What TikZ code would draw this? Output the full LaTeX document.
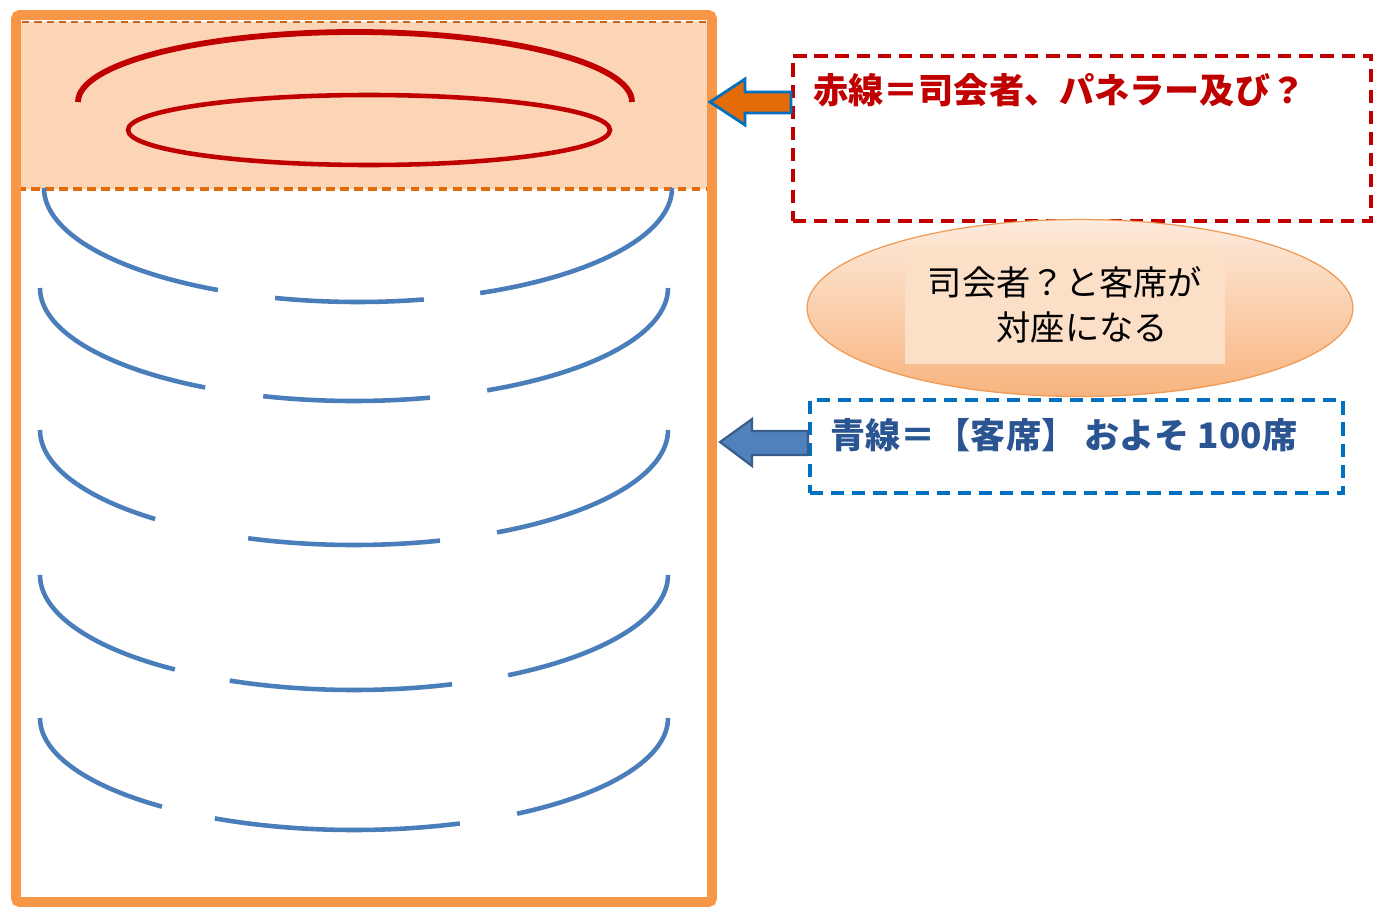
\documentclass[tikz,border=0pt]{standalone}
\usepackage{fontspec}
\newfontfamily\jpfont{Noto Sans CJK JP}
\usetikzlibrary{shapes.geometric,positioning}
\definecolor{frameorange}{HTML}{F79646}
\definecolor{panelpeach}{HTML}{FBD5B5}
\definecolor{panelline}{HTML}{C8641E}
\definecolor{dashorange}{HTML}{E36C09}
\definecolor{panelred}{HTML}{C00000}
\definecolor{seatblue}{HTML}{4A7EBB}
\definecolor{boxblue}{HTML}{0070C0}
\definecolor{textblue}{HTML}{2A5592}
\definecolor{arrowblue}{HTML}{4F81BD}
\definecolor{arrowedge}{HTML}{385D8A}
\definecolor{bubbletop}{HTML}{FDEBDD}
\definecolor{bubblebottom}{HTML}{F8B47E}
\definecolor{bubbleedge}{HTML}{EE9A55}
\tikzset{
    seat/.style = {seatblue, line width=2.6pt},
    panel/.style = {panelred, line width=2.6pt},
    notebox/.style = {draw, line width=2.2pt, dash pattern=on 7.5pt off 4.5pt, inner sep=0pt, anchor=north west},
    notetext/.style = {font=\jpfont\bfseries\fontsize{20}{24}\selectfont, anchor=west, inner sep=0pt}
}

\begin{document}
\begin{tikzpicture}[x=0.02cm, y=-0.02cm]
    \useasboundingbox (0,0) rectangle (1379,906);

    % Stage area
    \fill[panelpeach] (17,22) rectangle (709,189);
    \draw[panelline, line width=0.9pt, dash pattern=on 4pt off 3pt] (17,189) -- (17,22) -- (709,22) -- (709,189);
    \draw[dashorange, line width=1.8pt, dash pattern=on 5pt off 3pt] (17,189) -- (709,189);

    % Panel (red)
    \draw[panel, line width=3.3pt] (355,102) ++(180:277 and 70) arc[start angle=180, end angle=360, x radius=277, y radius=70];
    \draw[panel] (369,130) ellipse [x radius=241, y radius=35];

    % Seats (blue)
    \foreach \cx/\cy/\ry/\a/\b/\c/\d in {358/188/114/116.5/105.3/77.9/67.1,
                                         354/288/113/118.3/106.8/76/64.9,
                                         354/430/115/129.3/109.7/74.1/62.9,
                                         354/575/115/124.8/113.3/71.8/60.6,
                                         354/718/112/127.7/116.3/70.3/58.7}
    {
        \draw[seat] (\cx,\cy) ++(180:314 and \ry) arc[start angle=180, end angle=\a, x radius=314, y radius=\ry]
                    (\cx,\cy) ++(\b:314 and \ry) arc[start angle=\b, end angle=\c, x radius=314, y radius=\ry]
                    (\cx,\cy) ++(\d:314 and \ry) arc[start angle=\d, end angle=0, x radius=314, y radius=\ry];
    }

    % Hall frame
    \draw[frameorange, line width=5.5pt, rounded corners=2pt] (16,15) rectangle (712,902);

    % Notes
    \node[notebox, draw=panelred, minimum width=11.56cm, minimum height=3.3cm] (redbox) at (791,54) {};
    \node[notetext, text=panelred] (redtext) at (813,90) {赤線＝司会者、パネラー及び？};

    \node[ellipse, draw=bubbleedge, line width=0.7pt, top color=bubbletop, bottom color=bubblebottom,
          minimum width=10.92cm, minimum height=3.54cm] (bubble) at (1080,308) {};
    \node[fill=panelpeach!75!white, minimum width=6.4cm, minimum height=2.38cm, align=left,
          font=\jpfont\fontsize{19.5}{25.5}\selectfont] (bubbletext) at (1065,305) {司会者？と客席が\\　　対座になる};

    \node[notebox, draw=boxblue, line width=2.4pt, minimum width=10.66cm, minimum height=1.86cm] (bluebox) at (808,398) {};
    \node[notetext, text=textblue] (bluetext) at (830,435) {青線＝【客席】 およそ 100席};

    % Pointers
    \filldraw[fill=dashorange, draw=boxblue, line width=1.6pt]
        (redbox.west |- 0,92) -- (745,92) -- (745,79) -- (710,102) -- (745,125) -- (745,113) -- (redbox.west |- 0,113) -- cycle;
    \filldraw[fill=arrowblue, draw=arrowedge, line width=1.2pt]
        (bluebox.west |- 0,431) -- (752,431) -- (752,419) -- (720,442) -- (752,466) -- (752,455) -- (bluebox.west |- 0,455) -- cycle;

\end{tikzpicture}
\end{document}
